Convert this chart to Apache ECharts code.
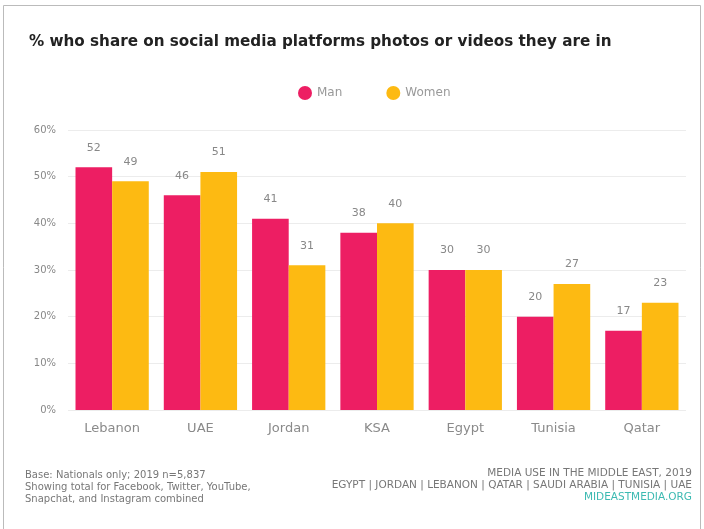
<!DOCTYPE html>
<html>
<head>
<meta charset="utf-8">
<script src="https://cdn.jsdelivr.net/npm/echarts@6/dist/echarts.min.js"></script>
<style>
  html, body { margin: 0; padding: 0; background: #fff; }
  #chart { width: 704px; height: 529px; }
</style>
</head>
<body>
<div id="chart"></div>
<script>
// Countries along the x axis
const countries = ['Lebanon', 'UAE', 'Jordan', 'KSA', 'Egypt', 'Tunisia', 'Qatar'];
// Share (%) who post photos or videos of themselves
const menValues = [52, 46, 41, 38, 30, 20, 17];
const womenValues = [49, 51, 31, 40, 30, 27, 23];
// Y axis range and step (%)
const yTicks = { min: 0, max: 60, step: 10 };

const chart = echarts.init(document.getElementById('chart'), null, { renderer: 'canvas' });

const fontFamily = '"DejaVu Sans", "Noto Sans", sans-serif';
const labelStyle = {
  show: true,
  position: 'top',
  distance: 14,
  color: '#888',
  fontSize: 11,
  fontFamily: fontFamily
};

// Source block in the lower right, one right-aligned line each
const sourceLines = [
  { text: 'MEDIA USE IN THE MIDDLE EAST, 2019', top: 468, fill: '#777' },
  { text: 'EGYPT | JORDAN | LEBANON | QATAR | SAUDI ARABIA | TUNISIA | UAE', top: 480, fill: '#777' },
  { text: 'MIDEASTMEDIA.ORG', top: 492, fill: '#3dbab2' }
];

chart.setOption({
  backgroundColor: '#fff',
  animation: false,
  title: {
    text: '% who share on social media platforms photos or videos they are in',
    left: 24,
    top: 30,
    textStyle: { fontSize: 15.2, fontWeight: 'bold', color: '#222', fontFamily: fontFamily }
  },
  legend: {
    top: 81,
    left: 293,
    itemWidth: 14,
    itemHeight: 14,
    itemGap: 44,
    icon: 'circle',
    textStyle: { color: '#999', fontSize: 12, fontFamily: fontFamily },
    data: ['Man', 'Women']
  },
  grid: { left: 68, right: 18, top: 130, bottom: 119, containLabel: false },
  xAxis: {
    type: 'category',
    data: countries,
    axisLine: { show: false },
    axisTick: { show: false },
    axisLabel: { color: '#8a8a8a', fontSize: 13, margin: 12, fontFamily: fontFamily }
  },
  yAxis: {
    type: 'value',
    min: yTicks.min,
    max: yTicks.max,
    interval: yTicks.step,
    axisLine: { show: false },
    axisTick: { show: false },
    axisLabel: { formatter: '{value}%', color: '#888', fontSize: 10, margin: 12, fontFamily: fontFamily },
    splitLine: { lineStyle: { color: '#ececec', width: 1 } }
  },
  series: [
    {
      name: 'Man',
      type: 'bar',
      data: menValues,
      barGap: '0%',
      barCategoryGap: '17%',
      itemStyle: { color: '#ED1E63' },
      label: labelStyle
    },
    {
      name: 'Women',
      type: 'bar',
      data: womenValues,
      itemStyle: { color: '#FDBA12' },
      label: labelStyle
    }
  ],
  graphic: [
    {
      type: 'rect',
      shape: { x: 3.5, y: 5.5, width: 697, height: 530 },
      style: { fill: 'none', stroke: '#bbb', lineWidth: 1 },
      silent: true
    },
    {
      type: 'text',
      left: 25,
      top: 469,
      style: {
        text: 'Base: Nationals only; 2019 n=5,837\nShowing total for Facebook, Twitter, YouTube,\nSnapchat, and Instagram combined',
        fill: '#777',
        font: '10px ' + fontFamily,
        lineHeight: 12
      }
    }
  ].concat(sourceLines.map(function (line) {
    return {
      type: 'text',
      right: 12,
      top: line.top,
      style: { text: line.text, fill: line.fill, font: '10.5px ' + fontFamily }
    };
  }))
});
</script>
</body>
</html>
